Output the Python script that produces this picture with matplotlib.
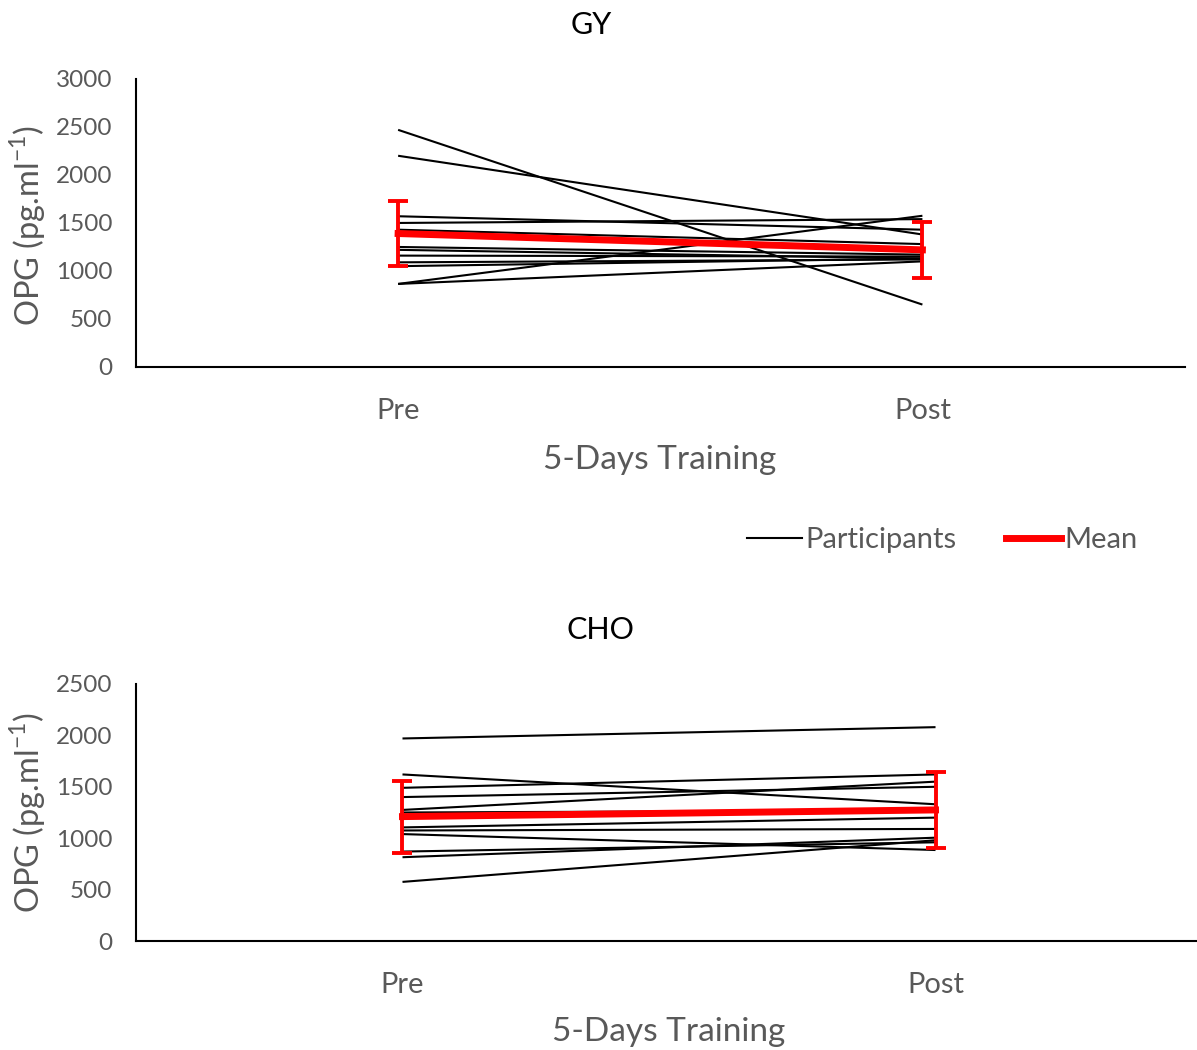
#!/usr/bin/env python3

import matplotlib
matplotlib.use("Agg")
import matplotlib.pyplot as plt
from matplotlib.lines import Line2D

times = ["Pre", "Post"]

# GY group, one value per participant
gy_pre = [2470, 2200, 1570, 1500, 1430, 1250, 1220, 1160, 1090, 1050, 865, 865]
gy_post = [650, 1380, 1430, 1540, 1280, 1170, 1130, 1150, 1120, 1130, 1575, 1100]
gy_mean = [1390, 1220]
gy_err = [340, 295]

# CHO group
cho_pre = [1970, 1620, 1490, 1400, 1275, 1250, 1105, 1075, 1040, 870, 815, 575]
cho_post = [2080, 1330, 1620, 1500, 1550, 1270, 1200, 1090, 885, 960, 1005, 980]
cho_mean = [1210, 1275]
cho_err = [350, 367]

GREY = "#595959"
plt.rcParams["font.family"] = ["Lato", "DejaVu Sans"]


def panel(ax, pre, post, mean, err, ymax):
    x = [0, 1]
    for a, b in zip(pre, post):
        ax.plot(x, [a, b], color="black", lw=1.5, solid_capstyle="butt")
    ax.errorbar(x, mean, yerr=err, color="red", lw=5, elinewidth=2.8,
                capsize=7, capthick=2.8, zorder=5)
    ax.set_xlim(-0.5, 1.5)
    ax.set_ylim(0, ymax)
    ax.set_yticks(range(0, ymax + 1, 500))
    ax.set_xticks(x)
    ax.set_xticklabels(times)
    for s in ["top", "right"]:
        ax.spines[s].set_visible(False)
    for s in ["left", "bottom"]:
        ax.spines[s].set_linewidth(1.5)
    ax.tick_params(axis="y", length=0, pad=17, labelsize=17.5, labelcolor=GREY)
    ax.tick_params(axis="x", length=0, pad=22, labelsize=21, labelcolor=GREY)


fig = plt.figure(figsize=(11.97, 10.5), dpi=100)

ax1 = fig.add_axes([0.1136, 0.6505, 0.876, 0.2743])
panel(ax1, gy_pre, gy_post, gy_mean, gy_err, 3000)
ax2 = fig.add_axes([0.1136, 0.1038, 0.8906, 0.2448])
panel(ax2, cho_pre, cho_post, cho_mean, cho_err, 2500)

fig.text(591 / 1197, 1 - 25 / 1050, "GY", ha="center", va="center", fontsize=22)
fig.text(600 / 1197, 1 - 630 / 1050, "CHO", ha="center", va="center", fontsize=22)

fig.text(660 / 1197, 1 - 460 / 1050, "5-Days Training", ha="center", va="center",
         fontsize=24, color=GREY)
fig.text(669 / 1197, 1 - 1032 / 1050, "5-Days Training", ha="center", va="center",
         fontsize=24, color=GREY)

ylab = "OPG (pg.ml$^{\\mathregular{-1}}$)"
fig.text(28 / 1197, 1 - 225 / 1050, ylab, rotation=90, ha="center", va="center",
         fontsize=23.5, color=GREY)
fig.text(28 / 1197, 1 - 812 / 1050, ylab, rotation=90, ha="center", va="center",
         fontsize=23.5, color=GREY)

handles = [Line2D([], [], color="black", lw=1.5),
           Line2D([], [], color="red", lw=5)]
fig.legend(handles, ["Participants", "Mean"], loc="center",
           bbox_to_anchor=(942 / 1197, 1 - 540 / 1050), ncol=2, frameon=False,
           fontsize=21, labelcolor=GREY, handlelength=1.9, handletextpad=0.1,
           columnspacing=1.7)

fig.savefig("out.png", dpi=100)
